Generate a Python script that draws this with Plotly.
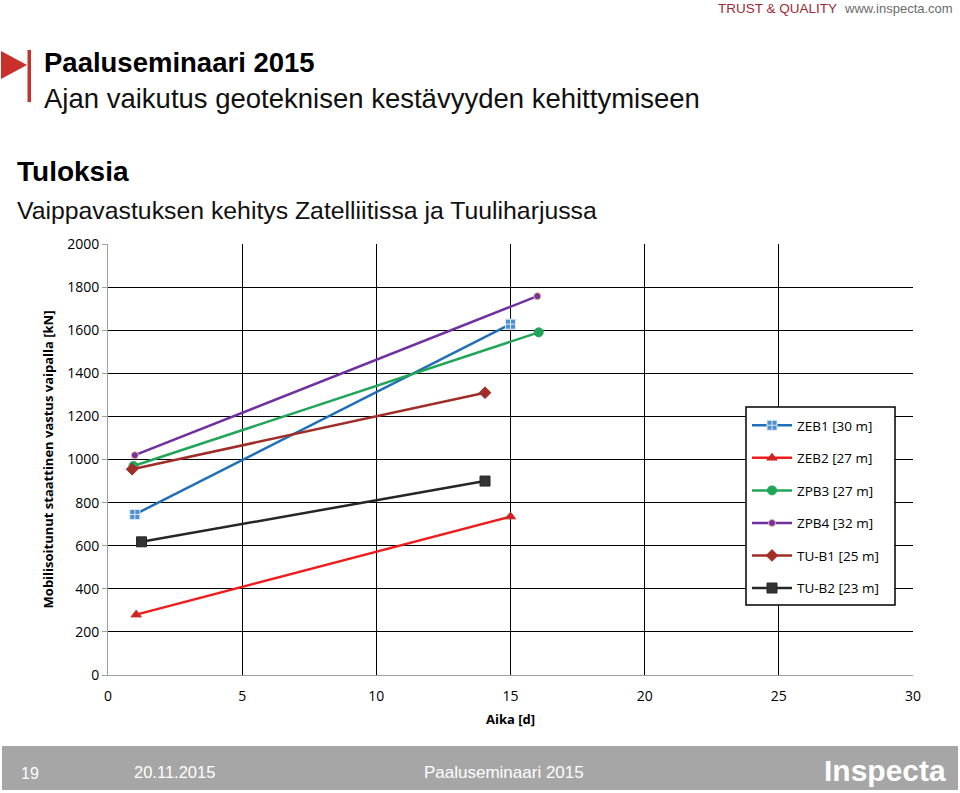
import plotly.graph_objects as go

series_names = ["ZEB1 [30 m]", "ZEB2 [27 m]", "ZPB3 [27 m]", "ZPB4 [32 m]", "TU-B1 [25 m]", "TU-B2 [23 m]"]
days = [[1.0, 15.0], [1.05, 15.0], [0.95, 16.05], [1.0, 16.0], [0.9, 14.05], [1.25, 14.05]]
force = [[745, 1628], [280, 735], [970, 1590], [1020, 1758], [955, 1310], [618, 900]]
colors = ["#1f6fb8", "#ee1c1c", "#21a558", "#7030a0", "#a12d28", "#262626"]
symbols = ["square-cross", "triangle-up", "circle", "circle", "diamond", "square"]
msizes = [10, 9, 9, 7, 9, 10]
mline = ["#dde8f5", "#c0302a", "#21a558", "#f5b98a", "#a12d28", "#262626"]
mfill = ["#4f8fd0", "#d42020", "#21a558", "#7030a0", "#a12d28", "#333333"]

x_ticks = [0, 5, 10, 15, 20, 25, 30]
y_ticks = [0, 200, 400, 600, 800, 1000, 1200, 1400, 1600, 1800, 2000]

fig = go.Figure()
for i, name in enumerate(series_names):
    fig.add_trace(go.Scatter(
        x=days[i], y=force[i], name=name, mode="lines+markers",
        legendgroup=name,
        line=dict(color=colors[i], width=2.5),
        marker=dict(symbol=symbols[i], size=msizes[i], color=mfill[i],
                    line=dict(color=mline[i], width=1)),
    ))

BODY = "Open Sans, Liberation Sans, sans-serif"
HEAD = "Liberation Sans, Arial, sans-serif"

def px(x):
    return (x - 108) / (960 - 108 - 47)
def py(y):
    return (675 - y) / (675 - 244)

fig.update_layout(
    width=960, height=793,
    margin=dict(l=108, r=47, t=244, b=118),
    paper_bgcolor="white", plot_bgcolor="white",
    showlegend=True,
    legend=dict(x=px(747), y=py(410), xanchor="left", yanchor="top",
                borderwidth=0, bgcolor="rgba(0,0,0,0)",
                font=dict(family=BODY, size=13.5, color="#000"),
                tracegroupgap=12, itemwidth=40),
    xaxis=dict(range=[0, 30], tickvals=x_ticks, showgrid=True, gridcolor="#000000",
               gridwidth=1, zeroline=False, showline=True, linecolor="#a0a0a0",
               ticks="", ticklabelstandoff=8,
               tickfont=dict(family=BODY, size=14, color="#000"),
               title=dict(text="<b>Aika [d]</b>", font=dict(family=BODY, size=13, color="#000"), standoff=11),
               fixedrange=True),
    yaxis=dict(range=[0, 2000], tickvals=y_ticks, showgrid=True, gridcolor="#000000",
               gridwidth=1, zeroline=False, showline=True, linecolor="#a0a0a0",
               ticks="outside", ticklen=5, tickcolor="#a0a0a0",
               tickfont=dict(family=BODY, size=14, color="#000"),
               title=dict(text="<b>Mobilisoitunut staattinen vastus vaipalla [kN]</b>",
                          font=dict(family=BODY, size=13, color="#000"), standoff=10),
               fixedrange=True),
)

# legend frame: white fill above gridlines, black border
fig.add_shape(type="rect", xref="paper", yref="paper",
              x0=px(746), x1=px(895), y0=py(605), y1=py(407),
              line=dict(color="#000000", width=1.5), fillcolor="#ffffff", layer="above")

fig.add_shape(type="path", xref="paper", yref="paper",
              path=f"M {px(1)} {py(51)} L {px(27)} {py(65)} L {px(1)} {py(79)} Z",
              fillcolor="#c8302c", line=dict(width=0))
fig.add_shape(type="rect", xref="paper", yref="paper",
              x0=px(27.5), x1=px(31), y0=py(102), y1=py(50),
              fillcolor="#c8302c", line=dict(width=0))
# footer bar
fig.add_shape(type="rect", xref="paper", yref="paper",
              x0=px(2), x1=px(958), y0=py(790), y1=py(746),
              fillcolor="#a6a6a6", line=dict(width=0), layer="below")

def txt(x, y, text, size, color="#000", bold=False, anchor="left", family=HEAD):
    fig.add_annotation(x=px(x), y=py(y), xref="paper", yref="paper",
                       text=f"<b>{text}</b>" if bold else text, showarrow=False,
                       xanchor=anchor, yanchor="middle",
                       font=dict(family=family, size=size, color=color))

txt(839, 8, "TRUST &amp; QUALITY", 13.5, "#9e2a35", anchor="right")
txt(955, 8, "www.inspecta.com", 13, "#6b6b6b", anchor="right")
txt(42, 62, "Paaluseminaari 2015", 27.5, "#000", bold=True)
txt(42, 98, "Ajan vaikutus geoteknisen kestävyyden kehittymiseen", 27.5, "#111")
txt(15, 172, "Tuloksia", 28, "#000", bold=True)
txt(15, 210, "Vaippavastuksen kehitys Zatelliitissa ja Tuuliharjussa", 24.8, "#111")
txt(19, 773, "19", 16, "#ffffff")
txt(132, 772, "20.11.2015", 16.5, "#ffffff")
txt(422, 772, "Paaluseminaari 2015", 17, "#ffffff")
txt(948, 770, "Inspecta", 30, "#ffffff", bold=True, anchor="right")

fig.write_html("out.html")
